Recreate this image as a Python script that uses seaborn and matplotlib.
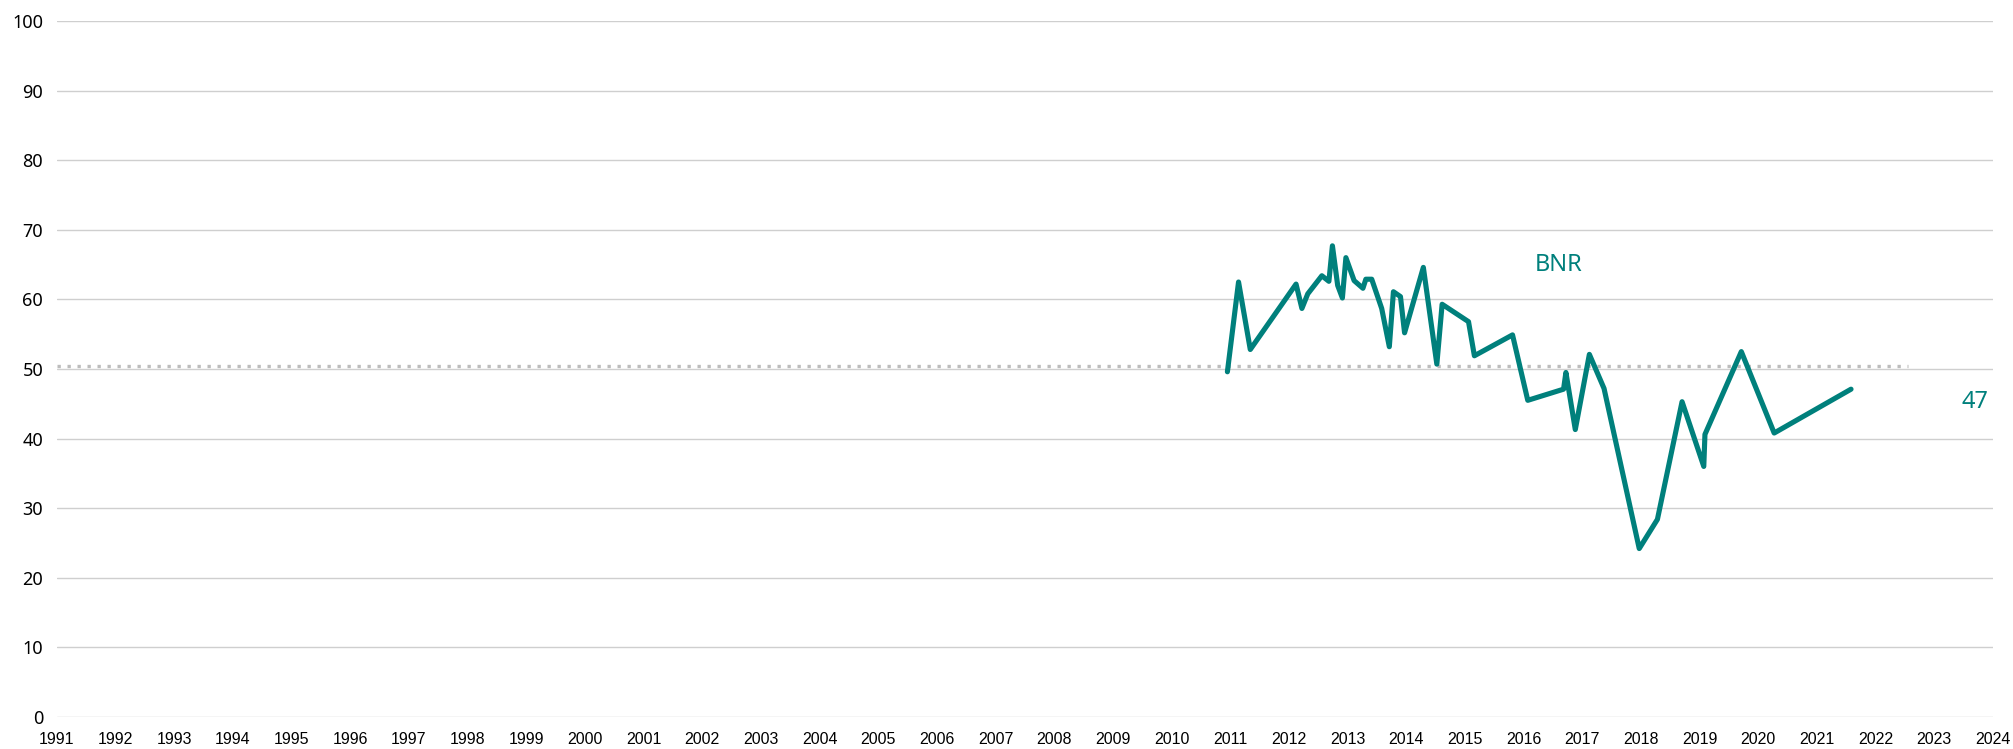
import matplotlib
matplotlib.use("Agg")
import matplotlib.pyplot as plt
import seaborn as sns
import pandas as pd

# ---- data (decimal year, index value) ----
bnr_year = [2010.95, 2011.14, 2011.34, 2012.12, 2012.22, 2012.32, 2012.56, 2012.68,
            2012.74, 2012.83, 2012.91, 2012.97, 2013.11, 2013.26, 2013.31, 2013.41,
            2013.58, 2013.71, 2013.78, 2013.90, 2013.97, 2014.29, 2014.52, 2014.61,
            2015.06, 2015.16, 2015.81, 2016.07, 2016.68, 2016.72, 2016.88, 2017.12,
            2017.37, 2017.97, 2018.28, 2018.70, 2019.07, 2019.09, 2019.71, 2020.27,
            2021.58]
bnr_value = [49.6, 62.5, 52.8, 62.2, 58.7, 60.8, 63.4, 62.6,
             67.7, 62.0, 60.2, 66.0, 62.7, 61.6, 62.9, 62.9,
             58.7, 53.2, 61.1, 60.4, 55.2, 64.6, 50.7, 59.3,
             56.8, 51.9, 54.9, 45.5, 47.1, 49.5, 41.3, 52.1,
             47.2, 24.2, 28.4, 45.3, 36.0, 40.6, 52.5, 40.8,
             47.1]
ref_year = [1991.0, 2022.55]
ref_value = [50.4, 50.4]
year_ticks = list(range(1991, 2025))
y_ticks = list(range(0, 101, 10))
series_label = "BNR"
last_label = "47"

TEAL = "#00807C"

sns.set_theme(style="white")
plt.rcParams["font.family"] = ["Noto Sans", "DejaVu Sans"]

fig = plt.figure(figsize=(20.13, 7.49), dpi=100)
ax = fig.add_axes([57 / 2013, 32 / 749, (1993 - 57) / 2013, (728 - 32) / 749])

df = pd.DataFrame({"year": bnr_year, "value": bnr_value})
ref = pd.DataFrame({"year": ref_year, "value": ref_value})

for y in y_ticks:
    ax.axhline(y, color="#cfcfcf", lw=1.0, zorder=0)

sns.lineplot(data=ref, x="year", y="value", ax=ax, color="#bcbcbc",
             lw=2.4, linestyle=(0, (1, 2)), estimator=None, sort=False, zorder=1)
sns.lineplot(data=df, x="year", y="value", ax=ax, color=TEAL,
             lw=3.7, estimator=None, sort=False, zorder=3)

ax.set_xlim(1991, 2024)
ax.set_ylim(0, 100)
ax.set_xticks(year_ticks)
ax.set_xticklabels([str(y) for y in year_ticks], family=["Liberation Sans", "DejaVu Sans"],
                   fontsize=11.5, color="#000000")
ax.set_yticks(y_ticks)
ax.set_yticklabels([str(y) for y in y_ticks], fontsize=13, color="#000000")
ax.tick_params(axis="x", length=0, pad=11)
ax.tick_params(axis="y", length=0, pad=10)
ax.set_xlabel("")
ax.set_ylabel("")
for s in ax.spines.values():
    s.set_visible(False)
ax.grid(False)

ax.text(2016.6, 65.0, series_label, color=TEAL, fontsize=17, ha="center", va="center")
ax.text(2023.7, 45.2, last_label, color=TEAL, fontsize=17, ha="center", va="center")

fig.savefig("out.png", dpi=100)
